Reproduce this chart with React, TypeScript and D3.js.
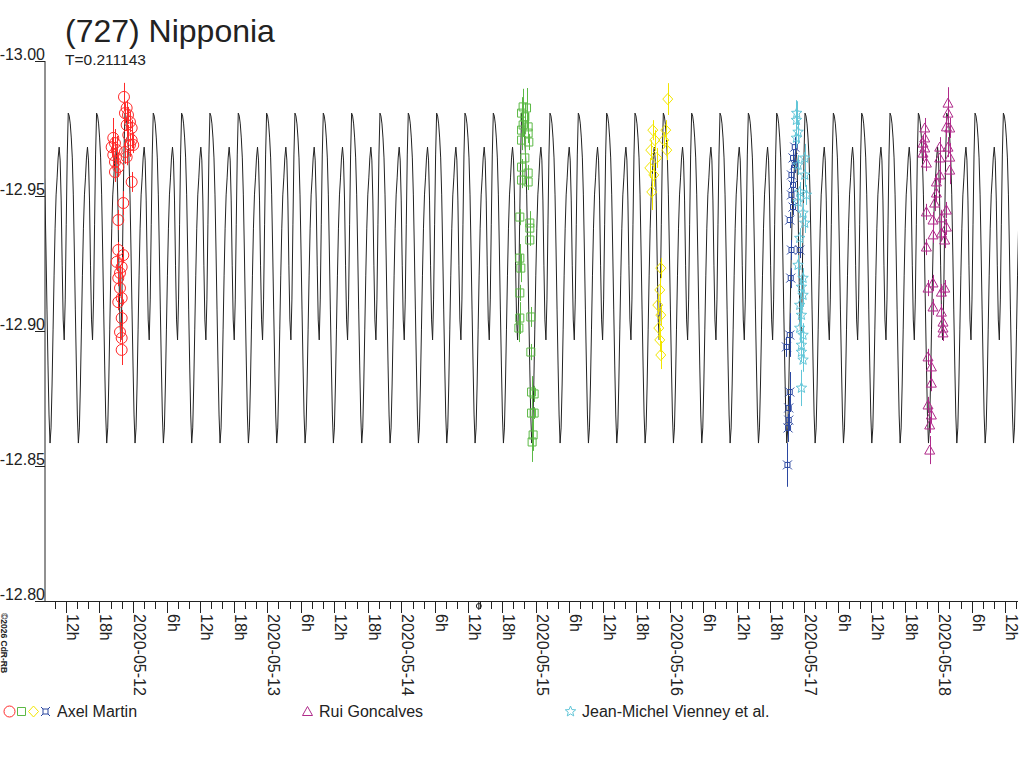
import { useRef, useEffect } from 'react';
import * as d3 from 'd3';

// time is stored as hours after 2020-05-11 00:00 UT
const BASE = Date.UTC(2020, 4, 11);
const PERIOD_DAYS = 0.211143;
const EPOCH_MAX_H = 37.765; // one of the light-curve maxima
const X_START_H = 8.27;
const X_END_H = 182.27;
const Y_TICKS = [-13.0, -12.95, -12.9, -12.85, -12.8];
const MARK_H = 85.85; // small mark drawn under the axis

// fitted curve over one rotation, magnitude at 28 equal phase steps
const PHASE_MAGS = [
  -12.9807, -12.9796, -12.9767, -12.9715, -12.9641, -12.9504, -12.93, -12.9078,
  -12.8874, -12.8689, -12.8585, -12.8641, -12.88, -12.9004, -12.9207, -12.9381,
  -12.9504, -12.9567, -12.9641, -12.9681, -12.9633, -12.9485, -12.9244, -12.9041,
  -12.8967, -12.9115, -12.9393, -12.9652,
];

type Obs = [number, number, number]; // hours, mag, error

const AXEL_RED: Obs[] = [
  [22.39, -12.9867, 0.0052], [22.87, -12.9826, 0.003], [22.57, -12.9807, 0.0037],
  [23.11, -12.98, 0.003], [23.46, -12.9774, 0.0037], [22.87, -12.9763, 0.0044],
  [23.77, -12.9752, 0.003], [23.16, -12.9726, 0.0037], [23.77, -12.9707, 0.003],
  [23.46, -12.9689, 0.0044], [20.48, -12.9715, 0.0074], [20.78, -12.9696, 0.0052],
  [20.19, -12.9681, 0.0037], [21.09, -12.967, 0.0052], [20.48, -12.9652, 0.0044],
  [22.57, -12.9663, 0.0044], [22.87, -12.9644, 0.003], [20.78, -12.9626, 0.0052],
  [21.37, -12.9607, 0.0037], [20.78, -12.9589, 0.0037], [24.05, -12.9689, 0.003],
  [23.77, -12.9552, 0.0037], [22.27, -12.9474, 0.0044], [21.37, -12.9411, 0.0037],
  [21.37, -12.93, 0.003], [22.27, -12.9281, 0.003], [21.09, -12.9256, 0.003],
  [21.98, -12.9237, 0.0037], [21.68, -12.9215, 0.003], [21.37, -12.9196, 0.003],
  [21.68, -12.9159, 0.003], [21.98, -12.9122, 0.003], [21.37, -12.9107, 0.003],
  [21.98, -12.9048, 0.003], [21.68, -12.8996, 0.0037], [21.98, -12.8974, 0.0044],
  [21.98, -12.893, 0.0056],
];

const AXEL_GREEN: Obs[] = [
  [93.77, -12.983, 0.0067], [94.38, -12.9826, 0.0074], [93.49, -12.9807, 0.0059],
  [94.08, -12.9793, 0.0052], [93.77, -12.9763, 0.0044], [94.67, -12.9756, 0.0052],
  [93.49, -12.9744, 0.0037], [94.67, -12.9733, 0.0037], [93.49, -12.9707, 0.0037],
  [94.79, -12.97, 0.003], [94.08, -12.9641, 0.0044], [93.49, -12.9607, 0.003],
  [94.67, -12.9585, 0.003], [93.49, -12.9559, 0.003], [94.67, -12.9552, 0.003],
  [93.18, -12.9422, 0.003], [94.97, -12.94, 0.0044], [94.97, -12.9381, 0.003],
  [94.97, -12.9337, 0.0022], [93.18, -12.927, 0.0052], [93.36, -12.9233, 0.0052],
  [93.18, -12.9141, 0.003], [93.18, -12.9048, 0.0059], [95.15, -12.9052, 0.0037],
  [93.01, -12.9011, 0.0052], [95.15, -12.8922, 0.003], [95.28, -12.8774, 0.0059],
  [95.74, -12.8767, 0.003], [95.28, -12.8696, 0.003], [95.74, -12.8696, 0.0022],
  [95.56, -12.8615, 0.0059], [95.38, -12.8589, 0.0074],
];

const AXEL_YELLOW: Obs[] = [
  [119.64, -12.9859, 0.0059], [116.96, -12.9744, 0.0037], [117.32, -12.9707, 0.0037],
  [116.6, -12.967, 0.0037], [117.67, -12.9641, 0.0037], [116.43, -12.9604, 0.0037],
  [117.14, -12.9578, 0.0044], [116.78, -12.9515, 0.0067], [119.28, -12.9744, 0.0037],
  [118.92, -12.9707, 0.003], [119.46, -12.967, 0.0037], [118.39, -12.9233, 0.0037],
  [118.21, -12.9152, 0.0044], [117.85, -12.9096, 0.0037], [118.39, -12.9059, 0.0037],
  [118.03, -12.9011, 0.0044], [118.21, -12.8967, 0.0044], [118.39, -12.8911, 0.0052],
];

const AXEL_BLUE: Obs[] = [
  [142.35, -12.9681, 0.0037], [142.04, -12.9641, 0.003], [142.35, -12.9615, 0.003],
  [141.76, -12.9578, 0.0037], [142.04, -12.9541, 0.003], [141.76, -12.9504, 0.003],
  [142.04, -12.9459, 0.003], [141.45, -12.9411, 0.003], [141.76, -12.93, 0.0037],
  [143.24, -12.93, 0.003], [141.63, -12.9196, 0.0037], [141.45, -12.8985, 0.0081],
  [140.86, -12.8941, 0.0037], [141.45, -12.8774, 0.0074], [141.27, -12.8715, 0.0044],
  [141.27, -12.867, 0.0037], [141.15, -12.8641, 0.0052], [141.04, -12.8504, 0.0081],
];

const RUI_MAGENTA: Obs[] = [
  [169.75, -12.9844, 0.0059], [169.75, -12.9807, 0.0037], [169.47, -12.9756, 0.0037],
  [170.06, -12.9752, 0.0037], [165.59, -12.9752, 0.0037], [165.59, -12.9715, 0.0037],
  [165.28, -12.9696, 0.003], [165.59, -12.9678, 0.0037], [168.27, -12.9681, 0.0037],
  [169.75, -12.9681, 0.0037], [165.28, -12.9659, 0.003], [170.06, -12.9644, 0.0052],
  [168.27, -12.9641, 0.0037], [165.89, -12.9622, 0.003], [170.06, -12.9596, 0.0052],
  [168.27, -12.9578, 0.003], [167.68, -12.9552, 0.003], [167.68, -12.9511, 0.003],
  [167.37, -12.9474, 0.003], [169.47, -12.9448, 0.003], [165.89, -12.9441, 0.003],
  [167.07, -12.9411, 0.003], [168.57, -12.9419, 0.003], [169.47, -12.9385, 0.003],
  [167.07, -12.9356, 0.003], [168.57, -12.9363, 0.003], [169.16, -12.9337, 0.003],
  [165.89, -12.9311, 0.003], [167.07, -12.9178, 0.003], [166.18, -12.9159, 0.003],
  [169.16, -12.9159, 0.003], [168.57, -12.9144, 0.003], [167.07, -12.9089, 0.003],
  [168.57, -12.907, 0.003], [168.86, -12.9033, 0.003], [168.86, -12.9011, 0.003],
  [168.86, -12.8993, 0.003], [166.18, -12.8904, 0.003], [166.78, -12.8867, 0.003],
  [166.78, -12.8807, 0.003], [166.18, -12.8726, 0.003], [166.78, -12.8689, 0.003],
  [166.48, -12.8652, 0.003], [166.48, -12.8559, 0.0052],
];

const VIENNEY_CYAN: Obs[] = [
  [142.7, -12.9807, 0.0044], [142.65, -12.9781, 0.0074], [142.94, -12.9737, 0.0044],
  [142.65, -12.9715, 0.0037], [144.13, -12.9641, 0.0052], [142.94, -12.9615, 0.0037],
  [144.13, -12.9578, 0.0044], [143.24, -12.9515, 0.0037], [144.44, -12.9504, 0.0037],
  [142.94, -12.9478, 0.0037], [143.83, -12.9437, 0.0037], [144.13, -12.94, 0.0037],
  [143.24, -12.9344, 0.0037], [142.94, -12.9244, 0.0037], [143.83, -12.9196, 0.0037],
  [143.54, -12.9163, 0.0037], [143.83, -12.9133, 0.0044], [143.24, -12.9096, 0.0044],
  [143.54, -12.9059, 0.0044], [143.24, -12.9011, 0.0052], [143.83, -12.8985, 0.0044],
  [143.54, -12.8948, 0.0044], [143.54, -12.8922, 0.0037], [143.83, -12.8893, 0.0044],
  [143.54, -12.8789, 0.0067],
];

type Shape = 'circle' | 'square' | 'diamond' | 'cross' | 'triangle' | 'star';

const SERIES: { data: Obs[]; color: string; shape: Shape }[] = [
  { data: AXEL_RED, color: '#ff2a2a', shape: 'circle' },
  { data: AXEL_GREEN, color: '#5cb946', shape: 'square' },
  { data: AXEL_YELLOW, color: '#f2e600', shape: 'diamond' },
  { data: AXEL_BLUE, color: '#2b47a0', shape: 'cross' },
  { data: RUI_MAGENTA, color: '#b02a8a', shape: 'triangle' },
  { data: VIENNEY_CYAN, color: '#62c6d8', shape: 'star' },
];

const LEGEND = [
  { label: 'Axel Martin', x: 4, items: [0, 1, 2, 3] },
  { label: 'Rui Goncalves', x: 302, items: [4] },
  { label: 'Jean-Michel Vienney et al.', x: 565, items: [5] },
];

function starPath(ro: number, ri: number): string {
  const pts: string[] = [];
  for (let i = 0; i < 10; i++) {
    const r = i % 2 === 0 ? ro : ri;
    const a = -Math.PI / 2 + (i * Math.PI) / 5;
    pts.push(`${(r * Math.cos(a)).toFixed(2)},${(r * Math.sin(a)).toFixed(2)}`);
  }
  return `M${pts.join('L')}Z`;
}

function symbolPath(shape: Shape): string {
  switch (shape) {
    case 'circle':
      return 'M5.5,0A5.5,5.5 0 1,1 -5.5,0A5.5,5.5 0 1,1 5.5,0Z';
    case 'square':
      return 'M-4,-4H4V4H-4Z';
    case 'diamond':
      return 'M0,-5.5L5,0L0,5.5L-5,0Z';
    case 'cross':
      return 'M-2.5,-2.5H2.5V2.5H-2.5Z M-2.5,-2.5L-4.5,-4.5 M2.5,-2.5L4.5,-4.5 M2.5,2.5L4.5,4.5 M-2.5,2.5L-4.5,4.5';
    case 'triangle':
      return 'M0,-5L5,4H-5Z';
    default:
      return starPath(5.5, 2.4);
  }
}

const toDate = (h: number) => new Date(BASE + h * 3600e3);

export default function App() {
  const svgRef = useRef<SVGSVGElement>(null);

  useEffect(() => {
    if (!svgRef.current) return;
    const svg = d3.select(svgRef.current);
    svg.selectAll('*').remove();

    const left = 45;
    const right = 1018;
    const top = 61;
    const bottom = 601;
    const font = 'Liberation Sans, Arial, sans-serif';
    const ink = '#222';

    const x = d3.scaleUtc().domain([toDate(X_START_H), toDate(X_END_H)]).range([left, right]);
    const y = d3.scaleLinear().domain([-13.0, -12.8]).range([top, bottom]);

    svg.append('rect').attr('width', 1024).attr('height', 768).attr('fill', '#fff');

    // title
    svg.append('text').attr('x', 65).attr('y', 42)
      .attr('font-family', font).attr('font-size', 32).attr('fill', ink)
      .text('(727) Nipponia');
    svg.append('text').attr('x', 65).attr('y', 65)
      .attr('font-family', font).attr('font-size', 15.5).attr('fill', ink)
      .text(`T=${PERIOD_DAYS}`);

    // y axis
    svg.append('line').attr('x1', left).attr('x2', left).attr('y1', top).attr('y2', bottom)
      .attr('stroke', ink);
    Y_TICKS.forEach((v) => {
      const yy = Math.round(y(v)) + 0.5;
      svg.append('line').attr('x1', left - 10).attr('x2', left).attr('y1', yy).attr('y2', yy)
        .attr('stroke', ink);
      svg.append('text').attr('x', left).attr('y', yy - 2)
        .attr('text-anchor', 'end').attr('font-family', font).attr('font-size', 16)
        .attr('fill', ink).text(v.toFixed(2));
    });

    // x axis
    svg.append('line').attr('x1', left).attr('x2', right).attr('y1', bottom + 0.5).attr('y2', bottom + 0.5)
      .attr('stroke', ink);
    const ticks = d3.utcHour.every(2)!.range(toDate(X_START_H), toDate(X_END_H));
    ticks.forEach((d) => {
      const xx = Math.round(x(d)) + 0.5;
      const hour = d.getUTCHours();
      const major = hour % 6 === 0;
      svg.append('line').attr('x1', xx).attr('x2', xx)
        .attr('y1', bottom).attr('y2', bottom + (major ? 12 : 8)).attr('stroke', ink);
      if (major) {
        const label = hour === 0 ? d3.utcFormat('%Y-%m-%d')(d) : `${hour}h`;
        svg.append('text')
          .attr('transform', `translate(${xx},614) rotate(90)`)
          .attr('font-family', font).attr('font-size', 16).attr('fill', ink)
          .text(label);
      }
    });
    const mx = x(toDate(MARK_H));
    svg.append('circle').attr('cx', mx).attr('cy', 606).attr('r', 2.5)
      .attr('fill', 'none').attr('stroke', ink);
    svg.append('line').attr('x1', mx).attr('x2', mx).attr('y1', 602).attr('y2', 610).attr('stroke', ink);

    // copyright
    svg.append('text')
      .attr('transform', 'translate(1,613) rotate(90)')
      .attr('font-family', font).attr('font-size', 8.5).attr('font-weight', 'bold').attr('fill', ink)
      .text('©2026 CdR-RB');

    // fitted curve, one rotation profile repeated with the period
    const stepH = (PERIOD_DAYS * 24) / PHASE_MAGS.length;
    const n0 = Math.floor((X_START_H - EPOCH_MAX_H) / stepH) - 1;
    const n1 = Math.ceil((X_END_H - EPOCH_MAX_H) / stepH) + 1;
    const curve: [number, number][] = [];
    for (let n = n0; n <= n1; n++) {
      const k = ((n % PHASE_MAGS.length) + PHASE_MAGS.length) % PHASE_MAGS.length;
      curve.push([EPOCH_MAX_H + n * stepH, PHASE_MAGS[k]]);
    }
    svg.append('clipPath').attr('id', 'plot-clip')
      .append('rect').attr('x', left).attr('y', 0).attr('width', right - left).attr('height', bottom);
    svg.append('path')
      .attr('clip-path', 'url(#plot-clip)')
      .attr('d', d3.line<[number, number]>()
        .x((d) => x(toDate(d[0])))
        .y((d) => y(d[1]))(curve))
      .attr('fill', 'none').attr('stroke', ink).attr('stroke-width', 1);

    // observations
    SERIES.forEach((s) => {
      const g = svg.append('g');
      g.selectAll('line').data(s.data).enter().append('line')
        .attr('x1', (d) => Math.round(x(toDate(d[0]))) + 0.5)
        .attr('x2', (d) => Math.round(x(toDate(d[0]))) + 0.5)
        .attr('y1', (d) => y(d[1] - d[2]))
        .attr('y2', (d) => y(d[1] + d[2]))
        .attr('stroke', s.color);
      g.selectAll('path').data(s.data).enter().append('path')
        .attr('transform', (d) => `translate(${x(toDate(d[0]))},${y(d[1])})`)
        .attr('d', symbolPath(s.shape))
        .attr('fill', 'none').attr('stroke', s.color).attr('stroke-width', 1);
    });

    // legend
    LEGEND.forEach((entry) => {
      entry.items.forEach((si, i) => {
        const s = SERIES[si];
        svg.append('path')
          .attr('transform', `translate(${entry.x + 5.5 + i * 12},711.5)`)
          .attr('d', symbolPath(s.shape))
          .attr('fill', 'none').attr('stroke', s.color);
      });
      svg.append('text')
        .attr('x', entry.x + entry.items.length * 12 + 5)
        .attr('y', 717)
        .attr('font-family', font).attr('font-size', 16).attr('fill', ink)
        .text(entry.label);
    });
  }, []);

  return (
    <svg
      ref={svgRef}
      width={1024}
      height={768}
      style={{ position: 'absolute', left: 0, top: 0, display: 'block' }}
    />
  );
}
